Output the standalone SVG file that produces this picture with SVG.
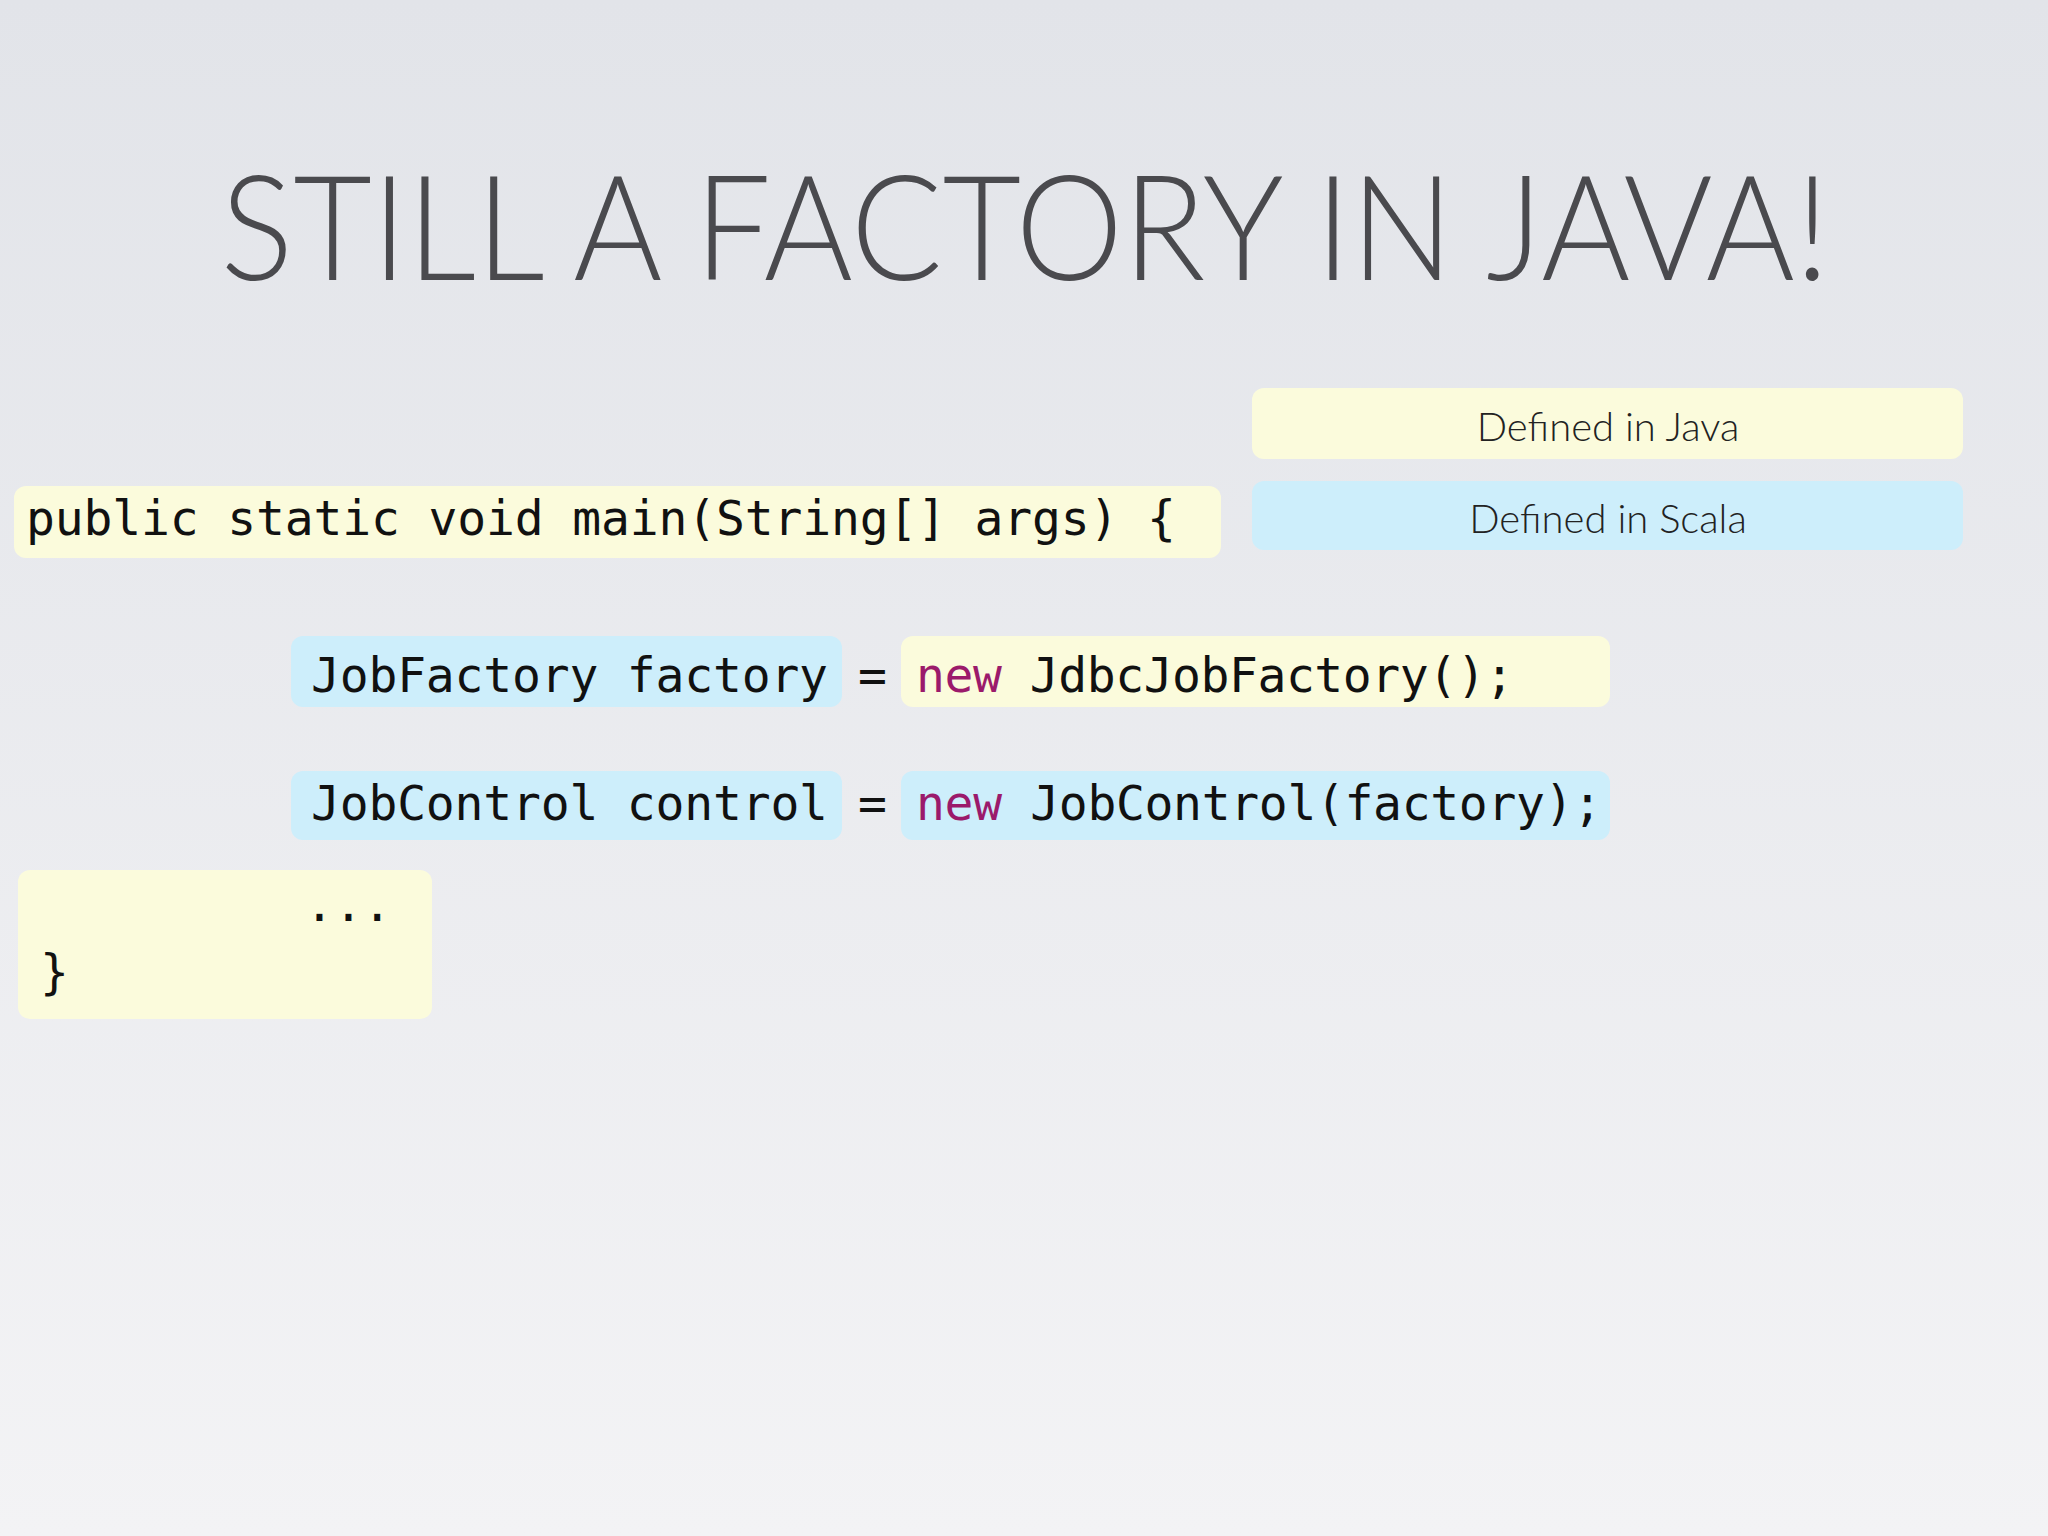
<svg xmlns="http://www.w3.org/2000/svg" width="2048" height="1536" viewBox="0 0 2048 1536">
<defs>
<linearGradient id="bg" x1="0" y1="0" x2="0" y2="1">
<stop offset="0" stop-color="#e2e4e9"/><stop offset="1" stop-color="#f3f3f5"/>
</linearGradient>
<style>
.java{fill:#fbfbdc}
.scala{fill:#cdeefb}
.code{font-family:"DejaVu Sans Mono","Liberation Mono",monospace;font-size:48px;fill:#111}
.kw{fill:#9b1a6b}
.lab{font-family:"Lato","Open Sans",sans-serif;font-weight:300;font-size:40px;fill:#222;text-anchor:middle}
</style>
</defs>
<rect width="2048" height="1536" fill="url(#bg)"/>
<text x="1025" y="280" font-family="Lato, 'Open Sans', sans-serif" font-weight="300" font-size="146" fill="#4a4a4e" text-anchor="middle" textLength="1609" lengthAdjust="spacingAndGlyphs">STILL A FACTORY IN JAVA!</text>
<g id="legend-java"><rect class="java" x="1252" y="388" width="711" height="71" rx="12"/><text class="lab" x="1608" y="441">Defined in Java</text></g>
<g id="legend-scala"><rect class="scala" x="1252" y="481" width="711" height="69" rx="12"/><text class="lab" x="1608" y="533">Defined in Scala</text></g>
<g id="main"><rect class="java" x="14" y="486" width="1207" height="72" rx="12"/><text class="code" x="26" y="535" textLength="1150">public static void main(String[] args) {</text></g>
<g id="factory-decl"><rect class="scala" x="291" y="636" width="551" height="71" rx="12"/><text class="code" x="311" y="692" textLength="517">JobFactory factory</text></g>
<g id="eq1"><text class="code" x="858" y="692">=</text></g>
<g id="factory-new"><rect class="java" x="901" y="636" width="709" height="71" rx="12"/><text class="code" x="916" y="692" textLength="598"><tspan class="kw">new</tspan> JdbcJobFactory();</text></g>
<g id="control-decl"><rect class="scala" x="291" y="771" width="551" height="69" rx="12"/><text class="code" x="311" y="820" textLength="517">JobControl control</text></g>
<g id="eq2"><text class="code" x="858" y="820">=</text></g>
<g id="control-new"><rect class="scala" x="901" y="771" width="709" height="69" rx="12"/><text class="code" x="916" y="820" textLength="686"><tspan class="kw">new</tspan> JobControl(factory);</text></g>
<g id="end"><rect class="java" x="18" y="870" width="414" height="149" rx="12"/><text class="code" x="305" y="921">...</text><text class="code" x="40" y="989">}</text></g>
<g id="connectors"/>
</svg>
